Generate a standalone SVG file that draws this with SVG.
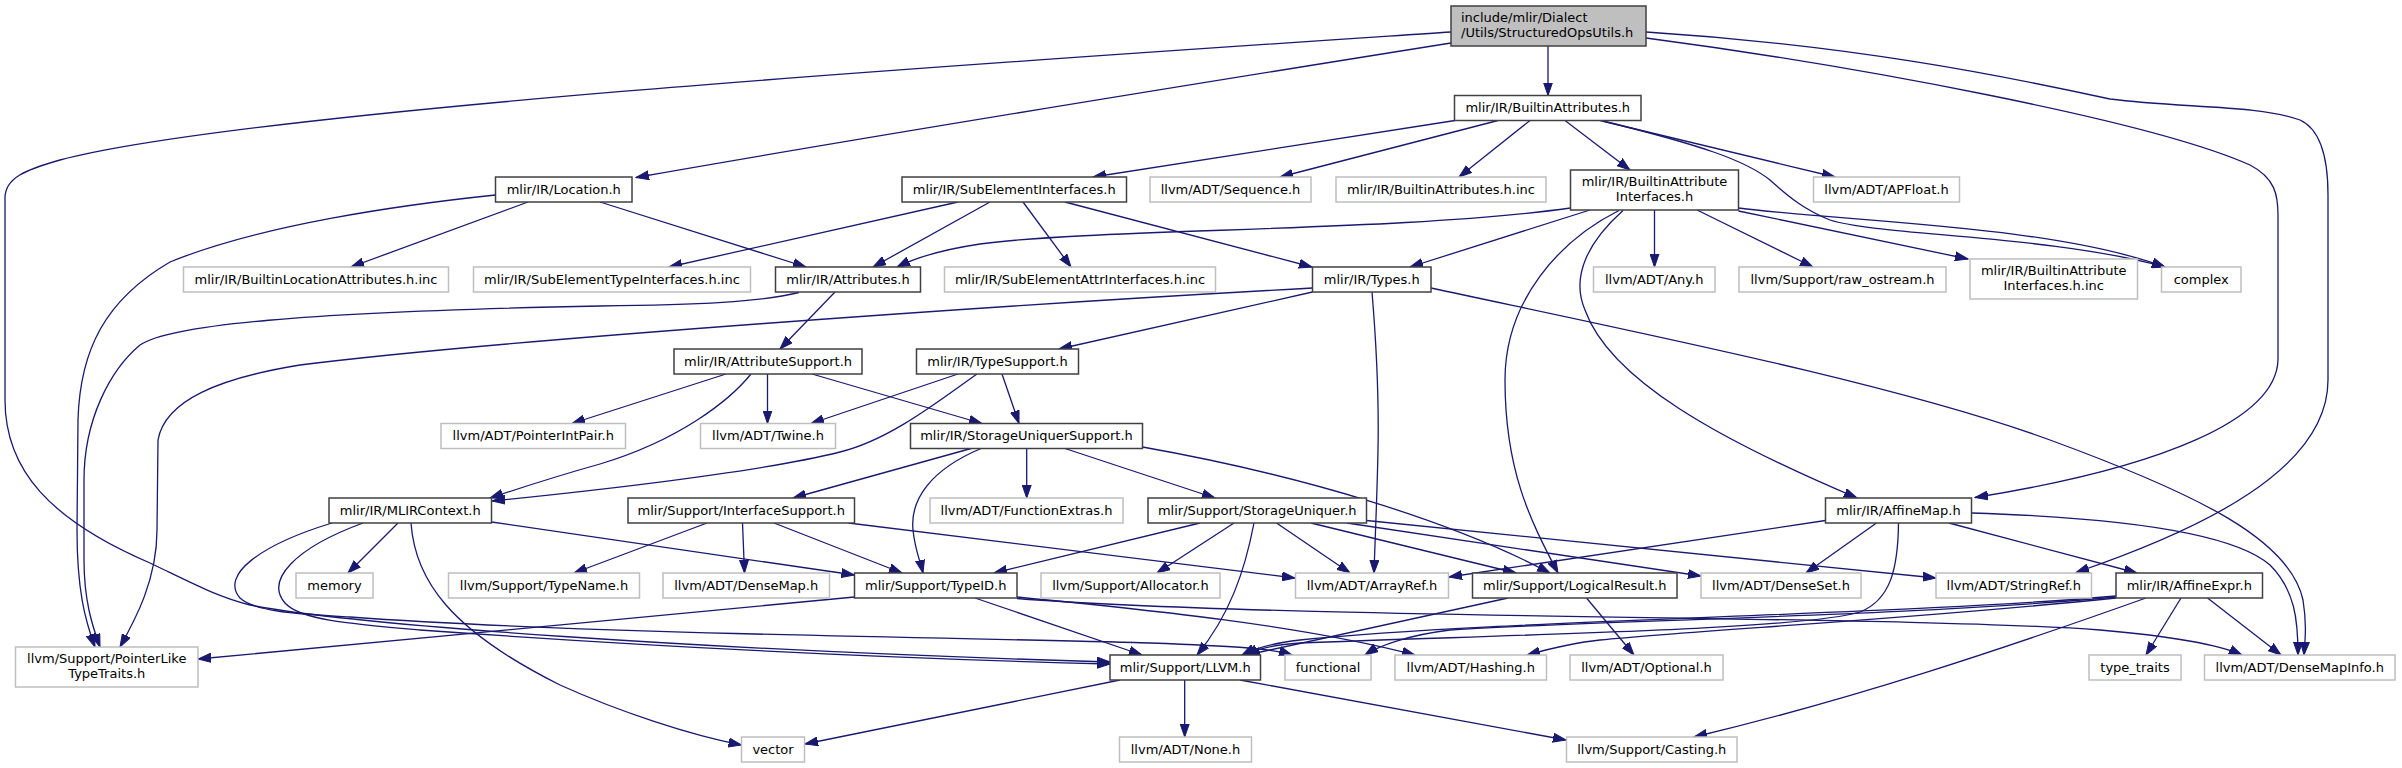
<svg xmlns="http://www.w3.org/2000/svg" width="2402" height="768" viewBox="0 0 2402 768">
<style>
  .lk { fill: #ffffff; stroke: #404040; stroke-width: 1.5; }
  .nl { fill: #ffffff; stroke: #bfbfbf; stroke-width: 1.5; }
  .rt { fill: #bfbfbf; stroke: #404040; stroke-width: 1.5; }
  text { font-family: "DejaVu Sans", "Liberation Sans", sans-serif; font-size: 13px; fill: #000000; text-anchor: middle; }
  text.l { text-anchor: start; }
  .e { fill: none; stroke: #191970; stroke-width: 1.3; marker-end: url(#ah); }
</style>
<defs>
  <marker id="ah" markerUnits="userSpaceOnUse" markerWidth="14" markerHeight="10" refX="13" refY="5" orient="auto">
    <path d="M0,0.5 L13,5 L0,9.5 z" fill="#191970" stroke="#191970" stroke-width="1"/>
  </marker>
</defs>
<rect width="2402" height="768" fill="#ffffff"/>

<g id="connectors">
  <path class="e" d="M1548,46 L1548,95.5"/>
  <path class="e" d="M1451,43 C1200,83 900,131 636,177.5"/>
  <path class="e" d="M1451,32 C1000,62 250,110 60,160 C25,170 5,178 5,198 L5,400 C5,470 50,520 150,563 C190,582 215,596 250,605 C350,625 700,650 1110,662"/>
  <path class="e" d="M1646,38 C1850,65 2150,120 2250,165 C2275,178 2278,195 2278,215 L2278,360 C2276,420 2160,468 1975,497.5"/>
  <path class="e" d="M1646,32 C1850,45 2000,75 2110,99 C2180,108 2260,105 2300,120 C2322,130 2328,160 2328,195 L2328,380 C2328,470 2200,530 2076,572.5"/>
  <path class="e" d="M1455,120.5 L1093,177"/>
  <path class="e" d="M1498,120.5 L1280,177"/>
  <path class="e" d="M1530,120.5 L1459,177"/>
  <path class="e" d="M1565,120.5 L1630,170"/>
  <path class="e" d="M1600,120.5 L1835,177"/>
  <path class="e" d="M1603,121 C1700,145 1745,160 1770,180 C1790,198 1805,210 1830,220 C1880,236 2050,235 2165,267"/>
  <path class="e" d="M1738.5,208 C1850,222 2050,225 2165,267"/>
  <path class="e" d="M1738.5,211 L1968,259"/>
  <path class="e" d="M1697,210 L1813,267"/>
  <path class="e" d="M1654.5,210 L1654.5,267"/>
  <path class="e" d="M1590,210 L1410,267"/>
  <path class="e" d="M1570.5,208 C1400,232 1100,228 980,244 C940,250 915,258 897,267"/>
  <path class="e" d="M1619,210.5 C1560,240 1505,300 1505,380 C1505,470 1530,520 1558,573"/>
  <path class="e" d="M1623,210.5 C1590,240 1570,275 1585,310 C1610,380 1720,440 1857,498"/>
  <path class="e" d="M528,202 L351,267"/>
  <path class="e" d="M600,202 L806,267"/>
  <path class="e" d="M495.5,195 C400,205 260,225 170,262 C105,300 80,350 78,420 L77,530 C77,590 85,620 95,647"/>
  <path class="e" d="M799,292.5 C760,302 700,305 600,306 C300,312 170,325 140,345 C110,370 84,420 84,480 L84,560 C84,600 92,625 100,647"/>
  <path class="e" d="M1312.5,288 C1000,305 500,340 300,365 C220,378 165,400 158,440 L157,530 C157,580 135,620 120,647"/>
  <path class="e" d="M958,202 L669,267"/>
  <path class="e" d="M990,202 L873,267"/>
  <path class="e" d="M1023,202 L1071,267"/>
  <path class="e" d="M1065,202 L1312,267"/>
  <path class="e" d="M1312.5,292 L1059,349"/>
  <path class="e" d="M1372,292 C1376,340 1379,400 1378,450 C1377,500 1375,540 1374,573"/>
  <path class="e" d="M1431,288 C1650,335 1900,385 2050,440 C2200,495 2290,540 2303,600 C2307,625 2305,640 2304,655"/>
  <path class="e" d="M835,292 L780,349"/>
  <path class="e" d="M726,374 L572,423.5"/>
  <path class="e" d="M751,374 C730,400 680,440 600,464 C550,478 520,488 490,498"/>
  <path class="e" d="M767.5,374 L767.5,423.5"/>
  <path class="e" d="M812,374 L982,423.5"/>
  <path class="e" d="M958,374 L811,423.5"/>
  <path class="e" d="M977,374 C940,400 890,440 840,452 C760,472 620,488 492,501"/>
  <path class="e" d="M1002,374 L1019,423.5"/>
  <path class="e" d="M971,448.5 L793,498"/>
  <path class="e" d="M981,448.5 C930,470 910,500 913,530 C915,550 920,560 923,573"/>
  <path class="e" d="M1026.7,448.5 L1026.7,498"/>
  <path class="e" d="M1065,448.5 L1215,498"/>
  <path class="e" d="M1142.5,447 C1300,475 1450,520 1550,573"/>
  <path class="e" d="M398,523 L348,573"/>
  <path class="e" d="M491.5,522 L854.5,575"/>
  <path class="e" d="M363,523 C295,548 265,580 285,603 C300,620 350,624 420,630 C700,650 950,660 1110,664"/>
  <path class="e" d="M332,523 C260,545 220,575 240,598 C255,612 300,614 350,617 C600,635 1000,638 1150,643 C1230,646 1270,648 1292,655"/>
  <path class="e" d="M411,523 C415,580 450,630 560,685 C620,712 690,735 741.5,745"/>
  <path class="e" d="M707,523 L574,573"/>
  <path class="e" d="M742.5,523 L744.5,573"/>
  <path class="e" d="M774,523 L902,573"/>
  <path class="e" d="M848.5,523 L1295,578"/>
  <path class="e" d="M1200,523 L994,573"/>
  <path class="e" d="M1234,523 L1157,573"/>
  <path class="e" d="M1254,523 C1245,570 1230,615 1197,655"/>
  <path class="e" d="M1276.5,523 L1350,573"/>
  <path class="e" d="M1311,523 L1516,573"/>
  <path class="e" d="M1347,523 L1701,576"/>
  <path class="e" d="M1366.5,520.5 L1936,578"/>
  <path class="e" d="M854.5,597 C700,612 400,640 198,659"/>
  <path class="e" d="M975,598 L1142,655"/>
  <path class="e" d="M1017,597 C1150,610 1300,625 1415,655"/>
  <path class="e" d="M1017,598.5 C1300,620 1900,615 2100,630 C2180,637 2220,645 2242,655"/>
  <path class="e" d="M1508,598 L1247,655"/>
  <path class="e" d="M1586.5,598 L1634,655"/>
  <path class="e" d="M1825.5,520.5 L1449,577"/>
  <path class="e" d="M1876.5,523 L1806,573"/>
  <path class="e" d="M1898.5,523 C1898,570 1890,600 1860,612 C1800,630 1500,635 1300,643 C1270,645 1255,650 1245,655"/>
  <path class="e" d="M1949,523 L2137,573"/>
  <path class="e" d="M1971.5,513 C2100,517 2230,530 2270,565 C2295,590 2298,620 2298,655"/>
  <path class="e" d="M2116,596 C1900,615 1500,620 1300,640 C1275,643 1255,648 1242,655"/>
  <path class="e" d="M2116,597 C1900,617 1600,620 1450,630 C1410,635 1380,645 1365,655"/>
  <path class="e" d="M2116,598 C1900,620 1700,630 1600,640 C1570,643 1545,650 1527,655"/>
  <path class="e" d="M2146,598 C2000,650 1850,700 1694,737"/>
  <path class="e" d="M2181,598 L2146,655"/>
  <path class="e" d="M2207.5,598 L2281,655"/>
  <path class="e" d="M1120,680 L805,744"/>
  <path class="e" d="M1184.7,680 L1184.7,737"/>
  <path class="e" d="M1240,680 L1566,740"/>
</g>

<g id="n_root"><rect class="rt" x="1451" y="6" width="195" height="40"/><text class="l" x="1461" y="22">include/mlir/Dialect</text><text class="l" x="1461" y="37">/Utils/StructuredOpsUtils.h</text></g>
<g id="n_builtinattributes"><rect class="lk" x="1454.5" y="95.5" width="186.5" height="25"/><text x="1547.75" y="112">mlir/IR/BuiltinAttributes.h</text></g>
<g id="n_location"><rect class="lk" x="495.5" y="177" width="136.5" height="25"/><text x="563.75" y="193.5">mlir/IR/Location.h</text></g>
<g id="n_subelementinterfaces"><rect class="lk" x="902" y="177" width="224.5" height="25"/><text x="1014.25" y="193.5">mlir/IR/SubElementInterfaces.h</text></g>
<g id="n_sequence"><rect class="nl" x="1150" y="177" width="161" height="25"/><text x="1230.5" y="193.5">llvm/ADT/Sequence.h</text></g>
<g id="n_builtinattributes_inc"><rect class="nl" x="1336" y="177" width="210" height="25"/><text x="1441" y="193.5">mlir/IR/BuiltinAttributes.h.inc</text></g>
<g id="n_builtinattributeinterfaces"><rect class="lk" x="1570.5" y="170" width="168" height="40"/><text x="1654.5" y="186">mlir/IR/BuiltinAttribute</text><text x="1654.5" y="201">Interfaces.h</text></g>
<g id="n_apfloat"><rect class="nl" x="1813.5" y="177" width="146" height="25"/><text x="1886.5" y="193.5">llvm/ADT/APFloat.h</text></g>
<g id="n_builtinlocationattributes_inc"><rect class="nl" x="183.5" y="267" width="265" height="25"/><text x="316" y="283.5">mlir/IR/BuiltinLocationAttributes.h.inc</text></g>
<g id="n_subelementtypeinterfaces_inc"><rect class="nl" x="473.5" y="267" width="277" height="25"/><text x="612" y="283.5">mlir/IR/SubElementTypeInterfaces.h.inc</text></g>
<g id="n_attributes"><rect class="lk" x="775.5" y="267" width="145" height="25"/><text x="848" y="283.5">mlir/IR/Attributes.h</text></g>
<g id="n_subelementattrinterfaces_inc"><rect class="nl" x="944.5" y="267" width="271" height="25"/><text x="1080" y="283.5">mlir/IR/SubElementAttrInterfaces.h.inc</text></g>
<g id="n_types"><rect class="lk" x="1312.5" y="267" width="118.5" height="25"/><text x="1371.75" y="283.5">mlir/IR/Types.h</text></g>
<g id="n_any"><rect class="nl" x="1593.5" y="267" width="121.5" height="25"/><text x="1654.25" y="283.5">llvm/ADT/Any.h</text></g>
<g id="n_raw_ostream"><rect class="nl" x="1739" y="267" width="207" height="25"/><text x="1842.5" y="283.5">llvm/Support/raw_ostream.h</text></g>
<g id="n_builtinattributeinterfaces_inc"><rect class="nl" x="1970" y="259" width="167.5" height="40"/><text x="2053.75" y="275">mlir/IR/BuiltinAttribute</text><text x="2053.75" y="290">Interfaces.h.inc</text></g>
<g id="n_complex"><rect class="nl" x="2161.5" y="267" width="79.5" height="25"/><text x="2201.25" y="283.5">complex</text></g>
<g id="n_attributesupport"><rect class="lk" x="674" y="349" width="188" height="25"/><text x="768" y="365.5">mlir/IR/AttributeSupport.h</text></g>
<g id="n_typesupport"><rect class="lk" x="916.5" y="349" width="162" height="25"/><text x="997.5" y="365.5">mlir/IR/TypeSupport.h</text></g>
<g id="n_pointerintpair"><rect class="nl" x="441" y="423.5" width="184.5" height="25"/><text x="533.25" y="440">llvm/ADT/PointerIntPair.h</text></g>
<g id="n_twine"><rect class="nl" x="700.5" y="423.5" width="135" height="25"/><text x="768" y="440">llvm/ADT/Twine.h</text></g>
<g id="n_storageuniquersupport"><rect class="lk" x="910.5" y="423.5" width="232" height="25"/><text x="1026.5" y="440">mlir/IR/StorageUniquerSupport.h</text></g>
<g id="n_mlircontext"><rect class="lk" x="329" y="498" width="162.5" height="25"/><text x="410.25" y="514.5">mlir/IR/MLIRContext.h</text></g>
<g id="n_interfacesupport"><rect class="lk" x="628" y="498" width="226.5" height="25"/><text x="741.25" y="514.5">mlir/Support/InterfaceSupport.h</text></g>
<g id="n_functionextras"><rect class="nl" x="930" y="498" width="193" height="25"/><text x="1026.5" y="514.5">llvm/ADT/FunctionExtras.h</text></g>
<g id="n_storageuniquer"><rect class="lk" x="1148" y="498" width="218.5" height="25"/><text x="1257.25" y="514.5">mlir/Support/StorageUniquer.h</text></g>
<g id="n_affinemap"><rect class="lk" x="1825.5" y="498" width="146" height="25"/><text x="1898.5" y="514.5">mlir/IR/AffineMap.h</text></g>
<g id="n_memory"><rect class="nl" x="296" y="573" width="77" height="25"/><text x="334.5" y="589.5">memory</text></g>
<g id="n_typename"><rect class="nl" x="448.5" y="573" width="191" height="25"/><text x="544" y="589.5">llvm/Support/TypeName.h</text></g>
<g id="n_densemap"><rect class="nl" x="663" y="573" width="166.5" height="25"/><text x="746.25" y="589.5">llvm/ADT/DenseMap.h</text></g>
<g id="n_typeid"><rect class="lk" x="854.5" y="573" width="162.5" height="25"/><text x="935.75" y="589.5">mlir/Support/TypeID.h</text></g>
<g id="n_allocator"><rect class="nl" x="1041" y="573" width="179" height="25"/><text x="1130.5" y="589.5">llvm/Support/Allocator.h</text></g>
<g id="n_arrayref"><rect class="nl" x="1295.5" y="573" width="153" height="25"/><text x="1372" y="589.5">llvm/ADT/ArrayRef.h</text></g>
<g id="n_logicalresult"><rect class="lk" x="1472.5" y="573" width="204.5" height="25"/><text x="1574.75" y="589.5">mlir/Support/LogicalResult.h</text></g>
<g id="n_denseset"><rect class="nl" x="1701" y="573" width="160" height="25"/><text x="1781" y="589.5">llvm/ADT/DenseSet.h</text></g>
<g id="n_stringref"><rect class="nl" x="1936" y="573" width="155.5" height="25"/><text x="2013.75" y="589.5">llvm/ADT/StringRef.h</text></g>
<g id="n_affineexpr"><rect class="lk" x="2116" y="573" width="146.5" height="25"/><text x="2189.25" y="589.5">mlir/IR/AffineExpr.h</text></g>
<g id="n_pointerliketypetraits"><rect class="nl" x="15.5" y="647" width="182.5" height="40"/><text x="106.75" y="663">llvm/Support/PointerLike</text><text x="106.75" y="678">TypeTraits.h</text></g>
<g id="n_llvm"><rect class="lk" x="1110" y="655" width="150.5" height="25"/><text x="1185.25" y="671.5">mlir/Support/LLVM.h</text></g>
<g id="n_functional"><rect class="nl" x="1285" y="655" width="86" height="25"/><text x="1328" y="671.5">functional</text></g>
<g id="n_hashing"><rect class="nl" x="1395" y="655" width="151.5" height="25"/><text x="1470.75" y="671.5">llvm/ADT/Hashing.h</text></g>
<g id="n_optional"><rect class="nl" x="1570" y="655" width="153" height="25"/><text x="1646.5" y="671.5">llvm/ADT/Optional.h</text></g>
<g id="n_type_traits"><rect class="nl" x="2089" y="655" width="92" height="25"/><text x="2135" y="671.5">type_traits</text></g>
<g id="n_densemapinfo"><rect class="nl" x="2204.5" y="655" width="190.5" height="25"/><text x="2299.75" y="671.5">llvm/ADT/DenseMapInfo.h</text></g>
<g id="n_vector"><rect class="nl" x="741.5" y="737" width="63" height="25"/><text x="773" y="753.5">vector</text></g>
<g id="n_none"><rect class="nl" x="1119.5" y="737" width="132" height="25"/><text x="1185.5" y="753.5">llvm/ADT/None.h</text></g>
<g id="n_casting"><rect class="nl" x="1566.5" y="737" width="170.5" height="25"/><text x="1651.75" y="753.5">llvm/Support/Casting.h</text></g>
</svg>
